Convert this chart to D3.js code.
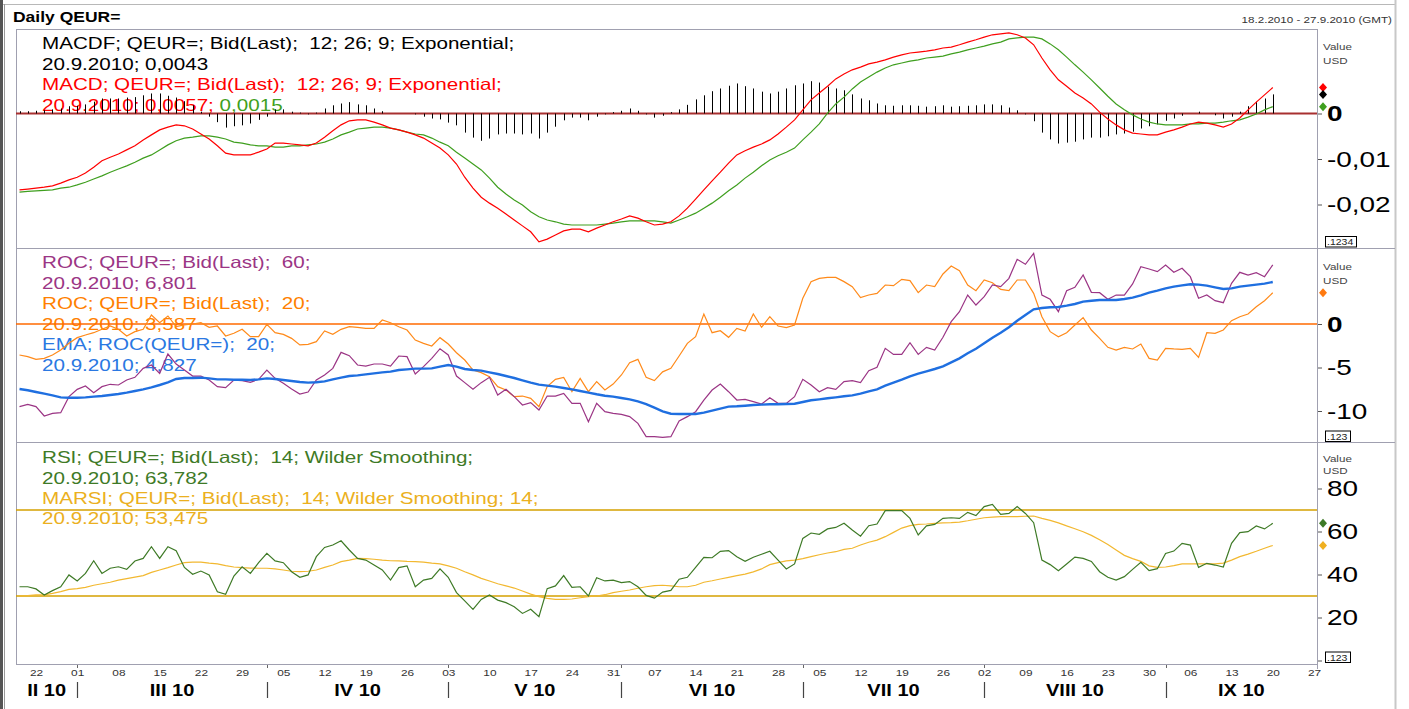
<!DOCTYPE html>
<html>
<head>
<meta charset="utf-8">
<script src="https://cdn.jsdelivr.net/npm/d3@7"></script>
<style>
  body { margin: 0; background: #fff; }
  svg text { font-family: "Liberation Sans", Arial, sans-serif; white-space: pre; }
</style>
</head>
<body>
<script>
// ---- data, one value per trading day 18.2.2010 .. 20.9.2010 ----
var macd = [
  -0.0168,-0.0166,-0.0164,-0.0162,-0.0159,-0.0153,-0.0146,-0.0140,-0.0131,-0.0118,
  -0.0104,-0.0096,-0.0089,-0.0080,-0.0071,-0.0058,-0.0047,-0.0036,-0.0030,-0.0025,
  -0.0027,-0.0034,-0.0045,-0.0056,-0.0071,-0.0087,-0.0091,-0.0091,-0.0091,-0.0085,
  -0.0078,-0.0065,-0.0065,-0.0067,-0.0069,-0.0071,-0.0065,-0.0052,-0.0038,-0.0025,
  -0.0016,-0.0014,-0.0014,-0.0019,-0.0025,-0.0032,-0.0036,-0.0041,-0.0047,-0.0054,
  -0.0065,-0.0076,-0.0091,-0.0111,-0.0140,-0.0164,-0.0184,-0.0197,-0.0208,-0.0221,
  -0.0234,-0.0247,-0.0260,-0.0282,-0.0276,-0.0267,-0.0258,-0.0254,-0.0254,-0.0260,
  -0.0252,-0.0245,-0.0238,-0.0232,-0.0225,-0.0230,-0.0238,-0.0245,-0.0243,-0.0238,
  -0.0225,-0.0208,-0.0188,-0.0168,-0.0148,-0.0129,-0.0109,-0.0091,-0.0082,-0.0074,
  -0.0067,-0.0058,-0.0045,-0.0030,-0.0014,0.0008,0.0030,0.0045,0.0060,0.0076,
  0.0087,0.0096,0.0102,0.0109,0.0113,0.0118,0.0124,0.0129,0.0133,0.0135,
  0.0137,0.0140,0.0144,0.0146,0.0151,0.0157,0.0162,0.0168,0.0173,0.0175,
  0.0177,0.0173,0.0166,0.0151,0.0122,0.0096,0.0074,0.0060,0.0045,0.0034,
  0.0021,0.0003,-0.0012,-0.0025,-0.0036,-0.0043,-0.0045,-0.0047,-0.0047,-0.0041,
  -0.0036,-0.0030,-0.0023,-0.0019,-0.0021,-0.0025,-0.0030,-0.0023,-0.0010,0.0008,
  0.0025,0.0041,0.0057
];
var macdSignal = [
  -0.0173,-0.0171,-0.0170,-0.0169,-0.0168,-0.0164,-0.0162,-0.0157,-0.0151,-0.0144,
  -0.0137,-0.0129,-0.0122,-0.0115,-0.0107,-0.0098,-0.0091,-0.0080,-0.0069,-0.0060,
  -0.0054,-0.0052,-0.0049,-0.0049,-0.0052,-0.0056,-0.0063,-0.0065,-0.0069,-0.0071,
  -0.0071,-0.0074,-0.0074,-0.0071,-0.0071,-0.0069,-0.0067,-0.0063,-0.0056,-0.0047,
  -0.0041,-0.0034,-0.0032,-0.0030,-0.0030,-0.0032,-0.0036,-0.0041,-0.0045,-0.0047,
  -0.0054,-0.0063,-0.0071,-0.0085,-0.0098,-0.0111,-0.0124,-0.0142,-0.0162,-0.0177,
  -0.0190,-0.0201,-0.0216,-0.0227,-0.0234,-0.0238,-0.0243,-0.0245,-0.0245,-0.0245,
  -0.0245,-0.0243,-0.0241,-0.0238,-0.0236,-0.0236,-0.0236,-0.0236,-0.0238,-0.0241,
  -0.0234,-0.0227,-0.0219,-0.0208,-0.0197,-0.0184,-0.0170,-0.0157,-0.0142,-0.0129,
  -0.0115,-0.0102,-0.0093,-0.0085,-0.0076,-0.0058,-0.0041,-0.0023,0.0001,0.0021,
  0.0036,0.0054,0.0069,0.0080,0.0091,0.0100,0.0107,0.0111,0.0115,0.0118,
  0.0122,0.0124,0.0126,0.0131,0.0135,0.0140,0.0144,0.0148,0.0153,0.0157,
  0.0164,0.0166,0.0168,0.0168,0.0164,0.0153,0.0140,0.0124,0.0107,0.0091,
  0.0074,0.0056,0.0038,0.0021,0.0008,-0.0003,-0.0012,-0.0019,-0.0023,-0.0025,
  -0.0025,-0.0025,-0.0023,-0.0023,-0.0021,-0.0021,-0.0019,-0.0016,-0.0014,-0.0008,
  -0.0001,0.0008,0.0015
];
var roc60 = [
  -9.50,-9.23,-9.50,-10.57,-10.27,-10.19,-8.35,-7.51,-7.13,-7.89,
  -7.20,-6.93,-7.01,-6.44,-6.13,-5.10,-4.71,-5.67,-3.45,-4.60,
  -5.29,-5.98,-5.98,-6.44,-7.20,-7.32,-6.44,-6.51,-6.70,-6.36,
  -5.29,-6.25,-6.82,-7.47,-8.05,-7.82,-6.44,-5.86,-5.10,-3.26,
  -3.64,-4.71,-4.83,-4.60,-4.60,-4.83,-3.68,-3.75,-5.75,-4.90,
  -3.95,-2.84,-3.56,-5.98,-6.74,-7.51,-6.74,-6.13,-8.16,-7.51,
  -8.35,-9.31,-9.04,-9.89,-8.28,-8.28,-7.97,-9.12,-9.12,-11.23,
  -9.12,-10.08,-10.27,-10.38,-10.65,-11.42,-12.95,-12.95,-13.03,-12.95,
  -11.15,-10.65,-10.08,-8.74,-7.59,-6.90,-7.78,-8.74,-8.66,-8.93,
  -9.20,-8.47,-9.12,-9.12,-8.35,-6.36,-7.01,-7.78,-7.32,-7.51,
  -6.63,-6.51,-6.74,-5.36,-4.98,-2.80,-3.49,-3.49,-2.15,-3.49,
  -2.68,-2.99,-1.53,0.27,1.42,3.33,2.18,3.14,4.48,4.29,
  5.25,7.43,6.86,8.12,3.33,2.84,1.42,3.83,4.21,5.63,
  3.64,3.60,2.84,3.33,3.33,4.60,6.59,6.32,6.02,6.78,
  5.94,6.40,5.44,2.95,3.33,2.68,2.45,4.67,5.94,5.63,
  5.90,5.44,6.80
];
var roc20 = [
  -3.56,-3.75,-4.06,-3.95,-3.56,-2.99,-2.22,-1.57,-1.26,-1.00,
  -0.61,-0.23,-0.61,-1.38,-0.88,-0.61,1.03,0.15,0.92,-0.31,
  -0.11,0.00,0.15,-0.38,-0.23,-1.38,-1.07,-0.61,-1.46,-1.46,
  -0.04,-1.00,-1.19,-1.65,-2.41,-2.34,-2.03,-0.80,-1.19,-0.61,
  -0.31,-0.38,-0.50,-0.50,0.46,0.15,-0.31,-0.69,-1.84,-2.22,
  -2.53,-1.57,-2.30,-3.30,-4.14,-5.29,-5.59,-6.05,-7.20,-7.59,
  -8.35,-8.28,-8.54,-9.50,-7.20,-6.36,-6.13,-7.78,-6.25,-7.78,
  -6.63,-7.59,-6.90,-5.86,-4.44,-4.06,-6.13,-6.50,-5.50,-5.10,
  -3.68,-2.22,-1.46,1.15,-1.00,-0.77,-1.53,-0.50,-0.80,1.15,
  -0.38,0.84,-0.23,-0.42,-0.11,2.95,4.87,5.25,5.36,5.36,
  4.87,4.29,3.03,3.33,3.52,4.48,4.41,5.13,4.98,3.60,
  4.48,4.29,5.75,6.67,6.13,4.48,3.83,5.06,4.75,3.98,
  3.83,5.06,5.06,3.52,0.84,-0.88,-1.46,-1.00,-0.11,0.73,
  -0.69,-1.65,-2.68,-2.99,-2.68,-2.87,-2.30,-3.95,-4.14,-2.80,
  -2.87,-2.91,-2.80,-3.83,-1.00,-1.07,-0.69,0.38,0.84,1.15,
  1.99,2.68,3.59
];
var rocEma = [
  -7.47,-7.62,-7.82,-8.01,-8.20,-8.43,-8.47,-8.47,-8.43,-8.35,
  -8.28,-8.16,-8.05,-7.89,-7.70,-7.51,-7.28,-7.01,-6.70,-6.32,
  -6.21,-6.21,-6.17,-6.25,-6.36,-6.36,-6.40,-6.40,-6.44,-6.36,
  -6.25,-6.32,-6.44,-6.55,-6.67,-6.74,-6.70,-6.59,-6.36,-6.17,
  -5.98,-5.90,-5.79,-5.67,-5.56,-5.48,-5.29,-5.21,-5.13,-5.13,
  -5.10,-4.90,-4.71,-4.90,-5.17,-5.29,-5.36,-5.56,-5.75,-5.98,
  -6.21,-6.48,-6.74,-6.97,-7.09,-7.20,-7.36,-7.51,-7.70,-7.89,
  -8.08,-8.24,-8.35,-8.51,-8.66,-8.89,-9.20,-9.62,-10.05,-10.31,
  -10.34,-10.34,-10.34,-10.19,-9.96,-9.73,-9.50,-9.46,-9.39,-9.31,
  -9.27,-9.23,-9.23,-9.20,-9.16,-8.97,-8.77,-8.66,-8.54,-8.43,
  -8.31,-8.20,-8.01,-7.74,-7.51,-7.09,-6.74,-6.40,-6.02,-5.71,
  -5.44,-5.17,-4.87,-4.41,-3.95,-3.37,-2.84,-2.22,-1.57,-1.00,
  -0.38,0.38,1.03,1.69,1.84,1.92,1.95,2.11,2.30,2.57,
  2.68,2.76,2.76,2.76,2.87,3.03,3.30,3.60,3.83,4.10,
  4.29,4.44,4.56,4.52,4.41,4.21,4.02,4.10,4.29,4.41,
  4.52,4.64,4.83
];
var rsi = [
  34.3,34.3,33.3,30.5,32.5,34.3,39.8,37.0,40.5,46.4,
  40.5,42.9,43.6,42.4,46.3,47.5,52.9,47.5,52.9,51.1,
  43.3,40.1,41.6,39.8,32.0,30.8,39.3,43.6,40.5,45.5,
  49.8,46.3,45.5,41.3,38.7,39.8,48.3,52.6,53.7,55.7,
  51.4,47.5,46.7,44.4,42.1,37.4,43.2,44.0,34.3,37.4,
  38.2,42.6,38.7,31.6,27.7,23.8,28.4,30.5,28.1,26.9,
  25.0,21.9,23.8,20.4,33.4,34.7,39.5,34.0,34.3,30.0,
  38.5,37.0,37.4,36.2,36.7,34.3,30.3,29.0,31.8,32.6,
  37.8,38.7,43.3,48.0,47.8,50.8,51.1,48.3,46.1,48.0,
  49.4,50.8,46.7,42.6,44.9,56.8,59.3,58.7,61.2,61.9,
  63.8,60.7,57.8,62.7,63.5,69.7,69.7,69.7,66.1,58.4,
  62.6,63.3,66.1,66.4,66.1,68.9,67.4,71.6,72.6,68.0,
  68.4,71.6,68.4,64.1,46.7,44.6,41.8,44.9,48.1,47.5,
  46.1,41.3,38.7,37.4,39.0,42.4,45.7,41.8,42.7,49.8,
  50.9,54.5,53.7,43.3,45.2,44.4,43.5,54.5,59.5,59.9,
  62.6,61.2,63.8
];
var marsi = [
  30.0,30.2,30.5,30.5,31.2,32.0,33.1,33.4,34.0,35.0,
  35.7,36.4,37.4,38.1,38.8,39.5,41.0,42.1,43.2,44.4,
  45.5,45.8,45.8,45.3,44.9,44.1,43.5,43.2,43.0,42.9,
  42.9,42.6,42.1,41.5,41.3,41.5,42.1,43.3,44.4,46.0,
  46.7,47.5,47.4,47.1,46.7,46.4,46.3,46.1,46.0,45.8,
  45.3,44.9,44.0,42.9,41.3,39.8,38.2,37.0,35.7,34.7,
  33.7,32.3,30.9,29.7,28.9,28.4,28.4,28.6,29.2,29.7,
  30.0,30.6,31.6,32.2,32.8,33.6,34.3,34.8,35.0,34.7,
  34.3,34.3,35.0,36.4,37.1,37.9,38.7,39.5,40.2,41.2,
  42.6,44.6,45.5,46.3,46.7,47.4,48.3,49.2,50.0,50.6,
  51.7,52.2,53.7,55.0,56.0,57.6,59.6,61.6,62.7,63.3,
  63.5,63.8,64.0,64.1,64.4,65.0,65.7,66.4,66.7,66.9,
  66.9,66.9,67.1,67.2,66.1,65.2,64.0,62.6,61.3,59.9,
  58.2,56.2,54.0,51.4,48.9,47.4,46.1,44.0,43.3,43.5,
  44.1,44.9,44.9,44.9,44.9,44.9,45.3,46.7,48.3,49.5,
  50.8,52.2,53.5
];

// axis ticks and levels
var macdTicks = [0, -0.01, -0.02];
var rocTicks = [0, -5, -10];
var rsiTicks = [0, 20, 40, 60, 80];
var rsiLevels = [70, 30];
var monthNames = ["I", "II", "III", "IV", "V", "VI", "VII", "VIII", "IX", "X", "XI", "XII"];

// legend texts
var macdLegend = [
  [{t: "MACDF; QEUR=; Bid(Last);  12; 26; 9; Exponential;", c: "#000"}],
  [{t: "20.9.2010; 0,0043", c: "#000"}],
  [{t: "MACD; QEUR=; Bid(Last);  12; 26; 9; Exponential;", c: "#ff0000"}],
  [{t: "20.9.2010; 0,0057; ", c: "#ff0000"}, {t: "0,0015", c: "#3fa020"}]
];
var rocLegend = [
  [{t: "ROC; QEUR=; Bid(Last);  60;", c: "#9b3585"}],
  [{t: "20.9.2010; 6,801", c: "#9b3585"}],
  [{t: "ROC; QEUR=; Bid(Last);  20;", c: "#ff8000"}],
  [{t: "20.9.2010; 3,587", c: "#ff8000"}],
  [{t: "EMA; ROC(QEUR=);  20;", c: "#2a78e2"}],
  [{t: "20.9.2010; 4,827", c: "#2a78e2"}]
];
var rsiLegend = [
  [{t: "RSI; QEUR=; Bid(Last);  14; Wilder Smoothing;", c: "#3e7a26"}],
  [{t: "20.9.2010; 63,782", c: "#3e7a26"}],
  [{t: "MARSI; QEUR=; Bid(Last);  14; Wilder Smoothing; 14;", c: "#ebb020"}],
  [{t: "20.9.2010; 53,475", c: "#ebb020"}]
];

// trading days (weekdays) of the time axis
var tradingDays = [];
for (var d = new Date(2010, 1, 18); d <= new Date(2010, 8, 27); d.setDate(d.getDate() + 1)) {
  if (d.getDay() !== 0 && d.getDay() !== 6) tradingDays.push(new Date(d));
}

// MACDF histogram is MACD minus its signal line
var macdHist = macd.map(function(v, i){ return v - macdSignal[i]; });

window.onload = function(){
  var w = 1409, h = 709;
  var sx = 1.25; // text in the picture is drawn horizontally stretched

  var svg = d3.select("body").append("svg")
    .attr("width", w)
    .attr("height", h);

  var plotL = 16, plotR = 1317, outerR = 1395;

  var x = d3.scaleLinear()
    .domain([0, tradingDays.length - 1])
    .range([19.5, 1314]);

  var yMacd = d3.scaleLinear().domain([0, -0.02]).range([113.5, 204.5]);
  var yRoc = d3.scaleLinear().domain([0, -10]).range([324, 411]);
  var yRsi = d3.scaleLinear().domain([0, 80]).range([660.5, 488.5]);

  var loc = d3.formatLocale({decimal: ",", thousands: ".", grouping: [3], currency: ["", ""], minus: "-"});

  // stretched text helper
  function label(g, tx, ty, str, size, opts){
    opts = opts || {};
    return g.append("text")
      .attr("transform", "translate(" + tx + "," + ty + ") scale(" + (opts.scale || sx) + ",1)")
      .attr("xml:space", "preserve")
      .attr("font-size", size)
      .attr("font-weight", opts.bold ? "bold" : null)
      .attr("text-anchor", opts.anchor || "start")
      .attr("fill", opts.color || "#000")
      .text(str);
  }

  // ---- frame ----
  svg.append("line").attr("x1", 0).attr("x2", outerR).attr("y1", 4.5).attr("y2", 4.5)
    .attr("stroke", "#b8b8b8");
  svg.append("rect").attr("x", 0).attr("y", 0).attr("width", 3).attr("height", h).attr("fill", "#555");
  svg.append("line").attr("x1", 4.5).attr("x2", 4.5).attr("y1", 4).attr("y2", h).attr("stroke", "#999");
  svg.append("line").attr("x1", outerR + 0.5).attr("x2", outerR + 0.5).attr("y1", 0).attr("y2", h)
    .attr("stroke", "#c8c8c8").attr("stroke-width", 2);

  label(svg, 13, 21.5, "Daily QEUR=", 14, {bold: true});
  label(svg, 1392, 22.5, "18.2.2010 - 27.9.2010 (GMT)", 9.3, {anchor: "end", color: "#333"});

  var frame = svg.append("g").attr("stroke", "#a0a0b0").attr("fill", "none");
  frame.append("line").attr("x1", plotL).attr("x2", plotR).attr("y1", 29.5).attr("y2", 29.5);
  frame.append("line").attr("x1", plotL + 0.5).attr("x2", plotL + 0.5).attr("y1", 29).attr("y2", 664.5);
  frame.append("line").attr("x1", plotR + 0.5).attr("x2", plotR + 0.5).attr("y1", 29).attr("y2", 669);
  frame.append("line").attr("x1", plotL).attr("x2", plotR).attr("y1", 664.5).attr("y2", 664.5);
  frame.append("line").attr("x1", plotL).attr("x2", outerR).attr("y1", 248.5).attr("y2", 248.5);
  frame.append("line").attr("x1", plotL).attr("x2", outerR).attr("y1", 442.5).attr("y2", 442.5);

  // ---- legends (under the lines) ----
  function legend(rows, baseY){
    rows.forEach(function(row, r){
      var t = label(svg, 42, baseY[r], "", 16.5);
      row.forEach(function(part){
        t.append("tspan").attr("fill", part.c).text(part.t);
      });
    });
  }
  legend(macdLegend, [49, 69.5, 90, 110.5]);
  legend(rocLegend, [268, 288.5, 309, 329.5, 350, 370.5]);
  legend(rsiLegend, [463, 483.5, 504, 524]);

  function lineFor(y){
    return d3.line()
      .x(function(d, i){ return x(i); })
      .y(function(d){ return y(d); });
  }

  // ---- MACD panel ----
  svg.append("line")
    .attr("x1", plotL).attr("x2", plotR)
    .attr("y1", yMacd(0)).attr("y2", yMacd(0))
    .attr("stroke", "#a83030").attr("stroke-width", 2);

  svg.selectAll(".hist")
    .data(macdHist)
    .enter()
    .append("line")
    .attr("class", "hist")
    .attr("x1", function(d, i){ return Math.round(x(i)) + 0.5; })
    .attr("x2", function(d, i){ return Math.round(x(i)) + 0.5; })
    .attr("y1", yMacd(0))
    .attr("y2", function(d){ return yMacd(d); })
    .attr("stroke", "#000")
    .attr("stroke-width", 1);

  svg.append("path").datum(macdSignal)
    .attr("d", lineFor(yMacd)).attr("fill", "none")
    .attr("stroke", "#3f9f1f").attr("stroke-width", 1.2);
  svg.append("path").datum(macd)
    .attr("d", lineFor(yMacd)).attr("fill", "none")
    .attr("stroke", "#ff0000").attr("stroke-width", 1.2);

  // ---- ROC panel ----
  svg.append("line")
    .attr("x1", plotL).attr("x2", plotR)
    .attr("y1", yRoc(0)).attr("y2", yRoc(0))
    .attr("stroke", "#ff6a00").attr("stroke-width", 1.5);
  svg.append("path").datum(roc20)
    .attr("d", lineFor(yRoc)).attr("fill", "none")
    .attr("stroke", "#ff8a1a").attr("stroke-width", 1.2);
  svg.append("path").datum(roc60)
    .attr("d", lineFor(yRoc)).attr("fill", "none")
    .attr("stroke", "#9b3585").attr("stroke-width", 1.2);
  svg.append("path").datum(rocEma)
    .attr("d", lineFor(yRoc)).attr("fill", "none")
    .attr("stroke", "#1f6fe0").attr("stroke-width", 2.4);

  // ---- RSI panel ----
  svg.selectAll(".level")
    .data(rsiLevels)
    .enter()
    .append("line")
    .attr("class", "level")
    .attr("x1", plotL).attr("x2", plotR)
    .attr("y1", function(d){ return yRsi(d); })
    .attr("y2", function(d){ return yRsi(d); })
    .attr("stroke", "#d4a000").attr("stroke-width", 1.5);
  svg.append("path").datum(marsi)
    .attr("d", lineFor(yRsi)).attr("fill", "none")
    .attr("stroke", "#f2b830").attr("stroke-width", 1.2);
  svg.append("path").datum(rsi)
    .attr("d", lineFor(yRsi)).attr("fill", "none")
    .attr("stroke", "#3e7a26").attr("stroke-width", 1.2);

  // ---- right value axes ----
  function valueAxis(y, ticks, fmt, top, boxText, boxY, unitY){
    var g = svg.append("g")
      .attr("transform", "translate(" + (plotR + 1) + ",0)")
      .call(d3.axisRight(y).tickValues(ticks).tickSize(4).tickPadding(3).tickFormat(fmt));
    g.select(".domain").remove();
    g.selectAll(".tick line").attr("stroke", "#555");
    g.selectAll(".tick text")
      .attr("font-size", 22)
      .attr("font-family", "Liberation Sans, Arial, sans-serif")
      .attr("fill", "#000")
      .attr("font-weight", function(d){ return d === 0 ? "bold" : null; })
      .attr("transform", "scale(1.27,1)");
    label(svg, plotR + 6, top + unitY[0], "Value", 9.3, {color: "#444"});
    label(svg, plotR + 6, top + unitY[1], "USD", 9.3, {color: "#444"});
    var bw = boxText.length > 4 ? 31 : 25;
    svg.append("rect")
      .attr("x", plotR + 8.5).attr("y", boxY + 0.5)
      .attr("width", bw).attr("height", 10.5)
      .attr("fill", "#fff").attr("stroke", "#000");
    label(svg, plotR + 10, boxY + 9, boxText, 8.4, {color: "#222"});
  }
  valueAxis(yMacd, macdTicks, function(d){ return d === 0 ? "0" : loc.format(".2f")(d); }, 29, ".1234", 236, [21, 35]);
  valueAxis(yRoc, rocTicks, function(d){ return loc.format("d")(d); }, 249, ".123", 430.5, [21, 35]);
  valueAxis(yRsi, rsiTicks, function(d){ return d === 0 ? "" : loc.format("d")(d); }, 443, ".123", 651.5, [18.5, 31]);

  // last-value diamonds
  var diamond = "M0,-4.5L4,0L0,4.5L-4,0Z";
  var last = macd.length - 1;
  var marks = [
    {y: yMacd(macd[last]), c: "#ff0000"},
    {y: yMacd(macdHist[last]), c: "#000"},
    {y: yMacd(macdSignal[last]), c: "#3f9f1f"},
    {y: yRoc(roc20[last]), c: "#ff7a10"},
    {y: yRsi(rsi[last]), c: "#3e7a26"},
    {y: yRsi(marsi[last]), c: "#f0b020"}
  ];
  svg.selectAll(".mark")
    .data(marks)
    .enter()
    .append("path")
    .attr("class", "mark")
    .attr("d", diamond)
    .attr("transform", function(d){ return "translate(" + (plotR + 6) + "," + d.y + ")"; })
    .attr("fill", function(d){ return d.c; });

  // ---- time axis ----
  var mondays = [];
  tradingDays.forEach(function(dt, i){ if (dt.getDay() === 1) mondays.push(i); });
  var dayFmt = d3.timeFormat("%d");
  var xAxis = svg.append("g")
    .attr("transform", "translate(0,665)")
    .call(d3.axisBottom(x).tickValues(mondays).tickSize(0).tickPadding(4)
      .tickFormat(function(i){ return dayFmt(tradingDays[i]); }));
  xAxis.select(".domain").remove();
  xAxis.selectAll(".tick text")
    .attr("font-size", 9.5)
    .attr("font-family", "Liberation Sans, Arial, sans-serif")
    .attr("fill", "#333")
    .attr("transform", "scale(1.25,1)");

  // month boundaries
  var monthStarts = [];
  tradingDays.forEach(function(dt, i){
    if (i > 0 && dt.getMonth() !== tradingDays[i - 1].getMonth()) monthStarts.push(i);
  });
  svg.selectAll(".msep")
    .data(monthStarts)
    .enter()
    .append("line")
    .attr("class", "msep")
    .attr("x1", function(i){ return Math.round(x(i)) + 0.5; })
    .attr("x2", function(i){ return Math.round(x(i)) + 0.5; })
    .attr("y1", 682).attr("y2", 698)
    .attr("stroke", "#444").attr("stroke-width", 1.2);
  svg.selectAll(".mtick")
    .data(monthStarts)
    .enter()
    .append("line")
    .attr("class", "mtick")
    .attr("x1", function(i){ return Math.round(x(i)) + 0.5; })
    .attr("x2", function(i){ return Math.round(x(i)) + 0.5; })
    .attr("y1", 665).attr("y2", 668)
    .attr("stroke", "#666");

  // month labels centred in their spans
  var bounds = [plotL].concat(monthStarts.map(function(i){ return x(i); })).concat([plotR]);
  var months = [tradingDays[0].getMonth()].concat(monthStarts.map(function(i){ return tradingDays[i].getMonth(); }));
  months.forEach(function(m, k){
    label(svg, (bounds[k] + bounds[k + 1]) / 2, 696, monthNames[m] + " 10", 16, {bold: true, anchor: "middle"});
  });
};
</script>
</body>
</html>
